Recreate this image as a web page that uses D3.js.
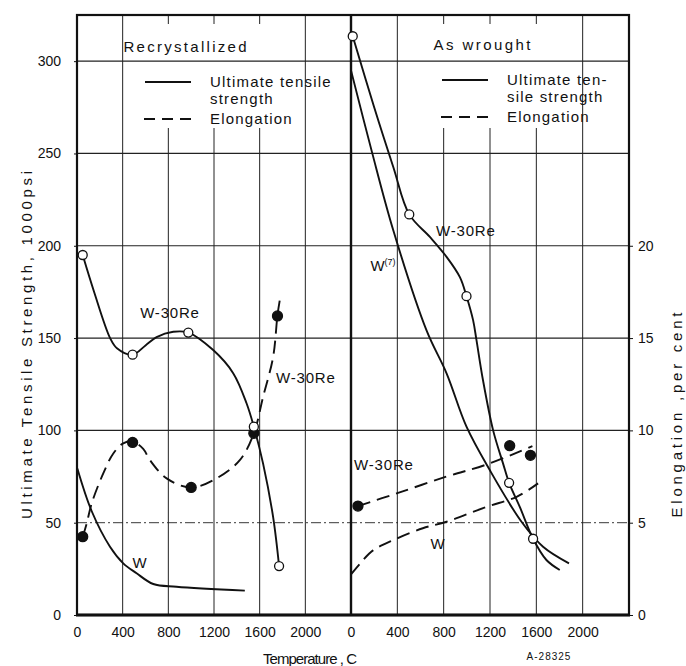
<!DOCTYPE html>
<html>
<head>
<meta charset="utf-8">
<script src="https://cdn.jsdelivr.net/npm/d3@7"></script>
<style>
  body { margin: 0; background: #fff; }
  text { font-family: "Liberation Sans", Arial, sans-serif; fill: #111; }
</style>
</head>
<body>
<div id="chart"></div>
<script>
// Axis ticks
var tempTicks = [0, 400, 800, 1200, 1600, 2000];
var utsTicks = [0, 50, 100, 150, 200, 250, 300];
var elongTicks = [0, 5, 10, 15, 20];

// Recrystallized panel: [temperature C, value]
var recW30ReUts = [[50,195],[150,175],[290,150],[350,144.5],[487,141],[600,146],[697,150.5],[843,153.4],[975,153],[1193,143.5],[1368,131],[1485,114.7],[1549,102],[1630,82],[1718,53],[1770,26.5]];
var recW30ReUtsPts = [[50,195],[487,141],[975,153],[1549,102],[1770,26.5]];
var recW30ReElong = [[50,4.24],[85,4.96],[129,6.05],[230,7.67],[318,8.75],[405,9.3],[487,9.4],[580,9.0],[639,8.39],[785,7.4],[1000,6.91],[1222,7.4],[1426,8.39],[1549,9.84],[1630,11.82],[1718,13.98],[1756,16.24],[1776,17.05]];
var recW30ReElongPts = [[50,4.24],[487,9.35],[1000,6.91],[1549,9.84],[1756,16.2]];
var recWUts = [[3,79.4],[129,56.2],[289,37],[405,28],[522,22.6],[668,16.8],[872,15.3],[1470,13.2]];

// As wrought panel
var wroW30ReUts = [[15,313.5],[200,275],[365,242.7],[503,217],[681,204.8],[825,194],[940,183],[997,172.7],[1054,159.7],[1083,149],[1140,127],[1227,100],[1313,82],[1365,71.6],[1457,58.6],[1572,41.3],[1687,29.8],[1802,24.4]];
var wroW30ReUtsPts = [[15,313.5],[503,217],[997,172.7],[1365,71.6],[1572,41.3]];
var wroWUts = [[0,295],[180,251],[365,208.4],[653,154],[825,130.9],[997,102],[1198,78.5],[1472,50.5],[1658,37],[1882,28]];
var wroW30ReElong = [[60,5.9],[400,6.6],[825,7.5],[1170,8.15],[1566,9.15]];
var wroW30ReElongPts = [[60,5.9],[1370,9.17],[1549,8.65]];
var wroWElong = [[0,2.2],[80,2.8],[190,3.5],[365,4.06],[620,4.7],[825,5.05],[1170,5.86],[1430,6.4],[1615,7.13]];

// Curve labels: panel, temperature, strength, text
var curveLabels = [
  ["L", 814, 163.5, "W-30Re"],
  ["L", 2004, 128.3, "W-30Re"],
  ["L", 551, 28.2, "W"],
  ["R", 991, 208.4, "W-30Re"],
  ["R", 284, 81.2, "W-30Re"],
  ["R", 750, 38.4, "W"]
];

var svg = d3.select("#chart").append("svg")
  .attr("width", 686)
  .attr("height", 666);

var xL = d3.scaleLinear().domain([0, 2400]).range([77, 351]);
var xR = d3.scaleLinear().domain([0, 2400]).range([351, 629]);
var y = d3.scaleLinear().domain([0, 325]).range([615, 15]);
var yE = d3.scaleLinear().domain([0, 32.5]).range([615, 15]);

var plotTop = y(325), plotBottom = y(0), legendBottom = 128;

// Grid: vertical lines
[xL, xR].forEach(function(x) {
  tempTicks.slice(1).forEach(function(t) {
    if (t == 400 || t == 2000) {
      svg.append("line").attr("x1", x(t)).attr("x2", x(t)).attr("y1", plotTop).attr("y2", plotBottom)
        .attr("stroke", "#222").attr("stroke-width", 1);
    } else {
      svg.append("line").attr("x1", x(t)).attr("x2", x(t)).attr("y1", plotTop).attr("y2", plotTop + 9)
        .attr("stroke", "#222").attr("stroke-width", 1);
      svg.append("line").attr("x1", x(t)).attr("x2", x(t)).attr("y1", legendBottom).attr("y2", plotBottom)
        .attr("stroke", "#222").attr("stroke-width", 1);
    }
  });
});

// Grid: horizontal lines
utsTicks.slice(1).forEach(function(v) {
  svg.append("line").attr("x1", xL(0)).attr("x2", xR(2400)).attr("y1", y(v)).attr("y2", y(v))
    .attr("stroke", "#222").attr("stroke-width", v == 50 ? 0.9 : 1.2)
    .attr("stroke-dasharray", v == 50 ? "10,3,2,3" : null);
});

// Frame
svg.append("rect").attr("x", xL(0)).attr("y", plotTop).attr("width", xR(2400) - xL(0)).attr("height", plotBottom - plotTop)
  .attr("fill", "none").attr("stroke", "#111").attr("stroke-width", 2.2);
svg.append("line").attr("x1", xL(0) - 1).attr("x2", xR(2400) + 1).attr("y1", plotBottom).attr("y2", plotBottom)
  .attr("stroke", "#111").attr("stroke-width", 3.2);
svg.append("line").attr("x1", xR(0)).attr("x2", xR(0)).attr("y1", plotTop).attr("y2", plotBottom)
  .attr("stroke", "#111").attr("stroke-width", 2.4);

// Axes
var gl = svg.append("g").attr("transform", `translate(${xL(0)},0)`)
  .call(d3.axisLeft(y).tickValues(utsTicks).tickSize(3).tickPadding(13));
var gr = svg.append("g").attr("transform", `translate(${xR(2400)},0)`)
  .call(d3.axisRight(yE).tickValues(elongTicks).tickSize(4).tickPadding(5));
var gbl = svg.append("g").attr("transform", `translate(0,${plotBottom})`)
  .call(d3.axisBottom(xL).tickValues(tempTicks).tickFormat(d3.format("d")).tickSize(0).tickPadding(12));
var gbr = svg.append("g").attr("transform", `translate(0,${plotBottom})`)
  .call(d3.axisBottom(xR).tickValues(tempTicks).tickFormat(d3.format("d")).tickSize(0).tickPadding(12));
[gl, gr, gbl, gbr].forEach(function(g) {
  g.select(".domain").remove();
  g.selectAll("line").attr("stroke", "#111");
  g.selectAll("text").attr("font-size", 14).attr("fill", "#111")
    .style("font-family", "'Liberation Sans', Arial, sans-serif");
});

// Axis titles
svg.append("text")
  .attr("transform", "translate(27,345) rotate(-90)")
  .attr("text-anchor", "middle").attr("dy", "0.35em")
  .attr("font-size", 15).attr("textLength", 348).attr("lengthAdjust", "spacing")
  .text("Ultimate Tensile Strength, 1000psi");
svg.append("text")
  .attr("transform", "translate(677,415) rotate(-90)")
  .attr("text-anchor", "middle").attr("dy", "0.35em")
  .attr("font-size", 15).attr("textLength", 205).attr("lengthAdjust", "spacing")
  .text("Elongation ,per cent");
svg.append("text")
  .attr("x", 310).attr("y", 664)
  .attr("text-anchor", "middle")
  .attr("font-size", 15).attr("textLength", 94).attr("lengthAdjust", "spacing")
  .text("Temperature , C");
svg.append("text")
  .attr("x", 549).attr("y", 660)
  .attr("text-anchor", "middle")
  .attr("font-size", 10).attr("letter-spacing", 1)
  .text("A-28325");

// Panel headers
svg.append("text").attr("x", 185).attr("y", 47).attr("dy", "0.35em").attr("text-anchor", "middle")
  .attr("font-size", 15).attr("textLength", 123).attr("lengthAdjust", "spacing").text("Recrystallized");
svg.append("text").attr("x", 482).attr("y", 45).attr("dy", "0.35em").attr("text-anchor", "middle")
  .attr("font-size", 15).attr("textLength", 97).attr("lengthAdjust", "spacing").text("As wrought");

// Legends
function legend(x0, y0, lines) {
  svg.append("line").attr("x1", x0).attr("x2", x0 + 46).attr("y1", y0).attr("y2", y0)
    .attr("stroke", "#111").attr("stroke-width", 1.8);
  svg.append("line").attr("x1", x0 - 1).attr("x2", x0 + 47).attr("y1", y0 + 37).attr("y2", y0 + 37)
    .attr("stroke", "#111").attr("stroke-width", 1.8).attr("stroke-dasharray", "11,7");
  lines.forEach(function(s, i) {
    svg.append("text").attr("x", x0 + 65).attr("y", y0 + [0, 17, 37][i]).attr("dy", "0.35em")
      .attr("font-size", 15).attr("letter-spacing", 1.2).text(s);
  });
}
legend(145, 82, ["Ultimate tensile", "strength", "Elongation"]);
legend(442, 80, ["Ultimate ten-", "sile strength", "Elongation"]);

// Curves
var line = d3.line().curve(d3.curveCatmullRom.alpha(0.5));
function curve(data, x, yy, dashed) {
  svg.append("path")
    .attr("d", line(data.map(d => [x(d[0]), yy(d[1])])))
    .attr("fill", "none").attr("stroke", "#111").attr("stroke-width", 1.9)
    .attr("stroke-dasharray", dashed ? "13,7" : null);
}
function points(data, x, yy, open) {
  svg.selectAll(null).data(data).enter().append("circle")
    .attr("cx", d => x(d[0])).attr("cy", d => yy(d[1]))
    .attr("r", open ? 4.5 : 5)
    .attr("fill", open ? "#fff" : "#111")
    .attr("stroke", "#111").attr("stroke-width", 1.3);
}

curve(recWUts, xL, y, false);
curve(recW30ReUts, xL, y, false);
curve(recW30ReElong, xL, yE, true);
curve(wroWUts, xR, y, false);
curve(wroW30ReUts, xR, y, false);
curve(wroW30ReElong, xR, yE, true);
curve(wroWElong, xR, yE, true);

points(recW30ReElongPts, xL, yE, false);
points(recW30ReUtsPts, xL, y, true);
points(wroW30ReElongPts, xR, yE, false);
points(wroW30ReUtsPts, xR, y, true);

// Curve labels
curveLabels.forEach(function(l) {
  var x = l[0] == "L" ? xL : xR;
  svg.append("text").attr("x", x(l[1])).attr("y", y(l[2])).attr("dy", "0.35em")
    .attr("text-anchor", "middle").attr("font-size", 15).attr("letter-spacing", 0.8)
    .text(l[3]);
});
var w7 = svg.append("text").attr("x", xR(276)).attr("y", y(189)).attr("dy", "0.35em")
  .attr("text-anchor", "middle").attr("font-size", 15);
w7.append("tspan").text("W");
w7.append("tspan").attr("font-size", 9).attr("dy", "-0.7em").text("(7)");
</script>
</body>
</html>
